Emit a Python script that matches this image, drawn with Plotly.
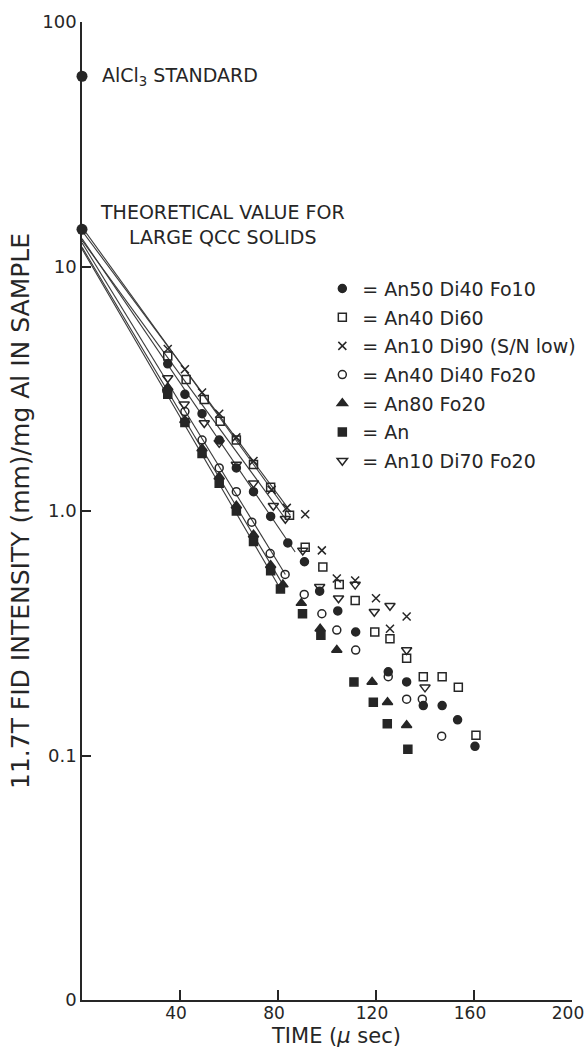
import math
import plotly.graph_objects as go

# ---------------- data ----------------
# An50 Di40 Fo10  (filled circle)
an50_x = [35, 42, 49, 56, 63, 70, 77, 84, 90.8, 97, 104.4, 111.7, 125, 132.5, 139.3, 147, 153.3, 160.4]
an50_y = [4.0, 3.0, 2.5, 1.95, 1.5, 1.2, 0.95, 0.74, 0.62, 0.47, 0.39, 0.32, 0.22, 0.20, 0.16, 0.16, 0.14, 0.109]
# An40 Di60  (open square)
an40di60_x = [35, 42.5, 49.9, 56.4, 63, 70, 77, 84.7, 91.1, 98.3, 105, 111.5, 119.5, 125.7, 132.5, 139.3, 147, 153.6, 160.8]
an40di60_y = [4.3, 3.45, 2.86, 2.33, 1.95, 1.55, 1.25, 0.96, 0.71, 0.59, 0.50, 0.43, 0.32, 0.30, 0.25, 0.21, 0.21, 0.19, 0.121]
# An10 Di90  (x)
an10di90_x = [35, 42, 49, 56, 63, 70, 77.4, 83.6, 91.1, 97.9, 104, 111.5, 120, 125.7, 132.5]
an10di90_y = [4.6, 3.8, 3.05, 2.5, 2.0, 1.6, 1.22, 1.03, 0.97, 0.69, 0.53, 0.52, 0.44, 0.33, 0.37]
# An40 Di40 Fo20  (open circle)
an40di40_x = [34.6, 42, 49, 56, 63, 69.3, 76.8, 82.9, 90.7, 97.9, 104, 111.7, 125, 132.5, 138.9, 146.8]
an40di40_y = [3.1, 2.55, 1.95, 1.5, 1.2, 0.9, 0.67, 0.55, 0.456, 0.38, 0.326, 0.27, 0.21, 0.17, 0.17, 0.12]
# An80 Fo20  (filled triangle)
an80_x = [35, 42, 49, 56, 63, 70, 77, 82, 89.5, 97.2, 104, 118.4, 124.7, 132.5]
an80_y = [3.2, 2.35, 1.8, 1.38, 1.05, 0.8, 0.6, 0.5, 0.42, 0.33, 0.27, 0.20, 0.165, 0.133]
# An  (filled square)
an_x = [35, 42, 49, 56, 63, 70, 77, 81, 90, 97.5, 111, 118.9, 124.6, 133]
an_y = [3.0, 2.3, 1.72, 1.3, 1.0, 0.75, 0.57, 0.48, 0.38, 0.31, 0.2, 0.165, 0.135, 0.106]
# An10 Di70 Fo20  (open down triangle)
an10di70_x = [35, 41.7, 49.9, 56, 63, 70, 78.1, 83, 90.1, 97, 104.7, 111.5, 119.3, 125.7, 132.5, 140]
an10di70_y = [3.5, 2.73, 2.29, 1.9, 1.55, 1.3, 1.05, 0.93, 0.69, 0.49, 0.44, 0.50, 0.387, 0.41, 0.27, 0.19]

series_names = ["= An50 Di40 Fo10", "= An40 Di60", "= An10 Di90 (S/N low)", "= An40 Di40 Fo20",
                "= An80 Fo20", "= An", "= An10 Di70 Fo20"]

# fitted lines: start (time 0) and end points
fit_x0 = [0, 0, 0, 0, 0, 0, 0]
fit_y0 = [13.0, 14.5, 14.0, 12.5, 12.0, 11.8, 12.8]
fit_x1 = [87, 85, 84, 83, 82, 81, 83]
fit_y1 = [0.68, 0.96, 1.03, 0.55, 0.50, 0.48, 0.93]

# reference points
std_x = [0]
std_y = [60]
theo_x = [0]
theo_y = [14.2]

# ticks
y_tickvals = [0.01, 0.1, 1, 10, 100]
y_ticktext = ["0", "0.1", "1.0", "10", "100"]
x_tickvals = [40, 80, 120, 160, 200]
x_ticktext = ["40", "80", "120", "160", "200"]

x_title = "TIME (<i>µ</i> sec)"
y_title = "11.7T FID INTENSITY (mm)/mg Al IN SAMPLE"

# ---------------- styling ----------------
INK = "#262626"
FONT = "DejaVu Sans"

xs = [an50_x, an40di60_x, an10di90_x, an40di40_x, an80_x, an_x, an10di70_x]
ys = [an50_y, an40di60_y, an10di90_y, an40di40_y, an80_y, an_y, an10di70_y]
symbols = ["circle", "square-open", "x-thin-open", "circle-open", "triangle-up", "square", "triangle-down-open"]
sizes = [8, 8, 8, 8, 9, 8, 9]

fig = go.Figure()

for i in range(7):
    fig.add_trace(go.Scatter(
        x=[fit_x0[i], fit_x1[i]], y=[fit_y0[i], fit_y1[i]], mode="lines",
        line=dict(color="#3a3a3a", width=1.1), showlegend=False, hoverinfo="skip",
        cliponaxis=False))

for i in range(7):
    fig.add_trace(go.Scatter(
        x=xs[i], y=ys[i], mode="markers", name=series_names[i],
        legendgroup=f"g{i}",
        marker=dict(symbol=symbols[i], size=sizes[i], color=INK,
                    line=dict(color=INK, width=1.5))))

fig.add_trace(go.Scatter(x=std_x, y=std_y, mode="markers", showlegend=False, cliponaxis=False,
                         marker=dict(symbol="circle", size=11, color=INK)))
fig.add_trace(go.Scatter(x=theo_x, y=theo_y, mode="markers", showlegend=False, cliponaxis=False,
                         marker=dict(symbol="circle", size=11, color=INK)))

# annotations on a log axis take log10 positions
fig.add_annotation(x=std_x[0], y=math.log10(std_y[0]), xref="x", yref="y", xshift=18,
                   text="AlCl<sub>3</sub> STANDARD",
                   showarrow=False, xanchor="left", yanchor="middle",
                   font=dict(family=FONT, size=19, color=INK))
fig.add_annotation(x=theo_x[0], y=math.log10(theo_y[0]), xref="x", yref="y", xshift=16, yshift=-21,
                   text="THEORETICAL VALUE FOR<br>LARGE QCC SOLIDS",
                   showarrow=False, xanchor="left", yanchor="bottom", align="center",
                   font=dict(family=FONT, size=19, color=INK))
# x-axis title placed below the tick labels
fig.add_annotation(x=0.518, y=0, xref="paper", yref="paper", yshift=-36,
                   text=x_title, showarrow=False, xanchor="center", yanchor="middle",
                   font=dict(family=FONT, size=21, color=INK))

fig.update_layout(
    width=585, height=1050,
    margin=dict(l=82, r=13, t=22, b=50, autoexpand=False),
    paper_bgcolor="white", plot_bgcolor="white",
    font=dict(family=FONT, color=INK, size=18),
    showlegend=True,
    legend=dict(xref="container", yref="container", x=0.551, y=0.7432,
                xanchor="left", yanchor="top",
                font=dict(family=FONT, size=19, color=INK),
                bgcolor="rgba(0,0,0,0)", borderwidth=0,
                traceorder="grouped", tracegroupgap=1, itemwidth=30),
    xaxis=dict(range=[0, 200], tickvals=x_tickvals, ticktext=x_ticktext,
               ticks="inside", ticklen=10, tickwidth=1.5, tickcolor=INK,
               showline=True, linewidth=1.5, linecolor=INK, mirror=False,
               showgrid=False, zeroline=False,
               ticklabeloverflow="allow", ticklabelshift=-4, ticklabelstandoff=-3,
               tickfont=dict(family=FONT, size=17, color=INK)),
    yaxis=dict(type="log", range=[-2, 2], tickvals=y_tickvals, ticktext=y_ticktext,
               ticks="inside", ticklen=9, tickwidth=1.5, tickcolor=INK,
               showline=True, linewidth=1.5, linecolor=INK, mirror=False,
               showgrid=False, zeroline=False,
               ticklabeloverflow="allow",
               tickfont=dict(family=FONT, size=18, color=INK),
               title=dict(text=y_title, standoff=6,
                          font=dict(family=FONT, size=25, color=INK))),
)

fig.write_html("out.html")
